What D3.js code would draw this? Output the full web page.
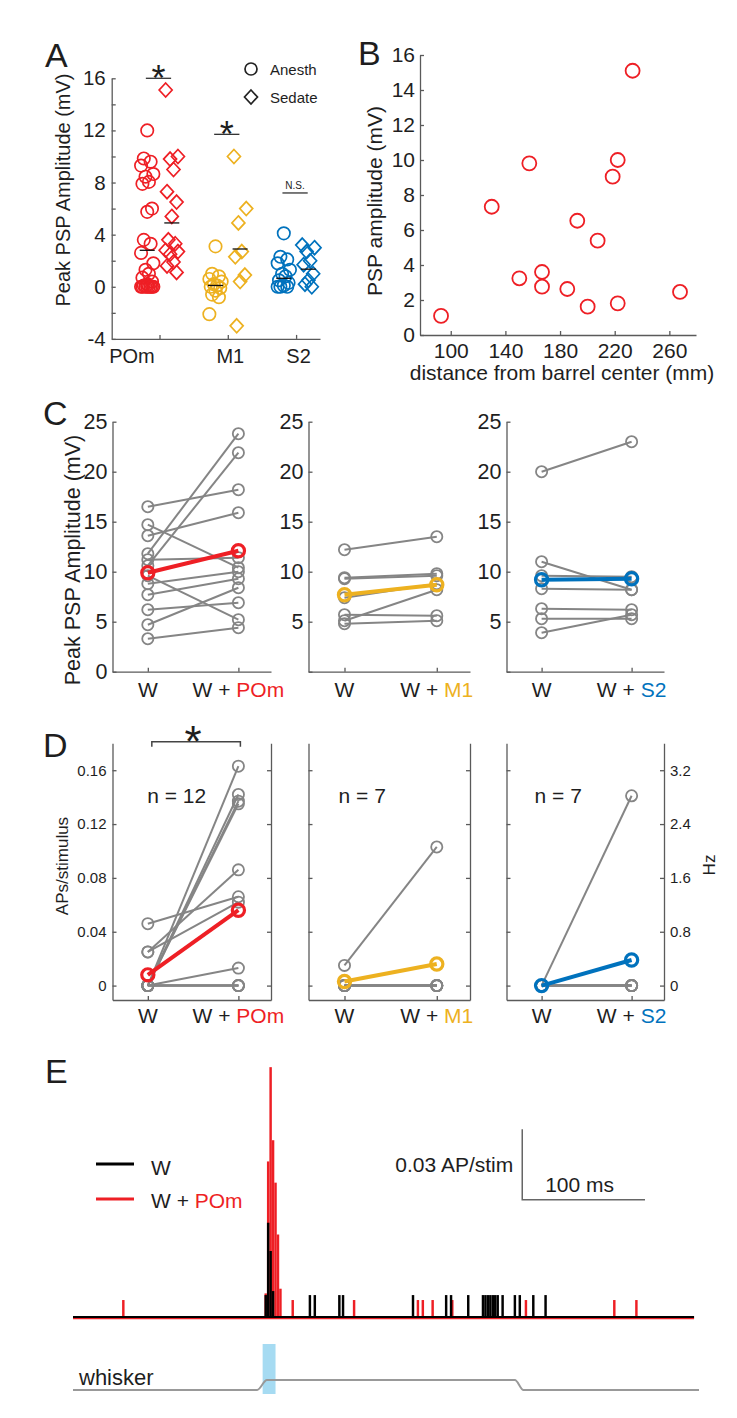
<!DOCTYPE html>
<html><head><meta charset="utf-8">
<script src="https://cdn.jsdelivr.net/npm/d3@7"></script>
<style>
body{margin:0;background:#fff}
text{font-family:"Liberation Sans",Arial,sans-serif;fill:#1e1e1e;white-space:pre}
</style>
</head><body>
<svg id="c" width="737" height="1418"></svg>
<script>
// ---------------- DATA ----------------
// Panel A
const groupsA = ["POm", "M1", "S2"];
const anesthPOm = [12.0, 9.85, 9.6, 9.3, 8.65, 8.45, 8.05, 7.9, 6.0, 5.75, 3.6, 3.3, 2.6, 1.8, 1.3, 1.0, 0.7, 0.4, 0.2, 0.1, 0, 0, 0, 0, 0, 0, 0, 0];
const sedatePOm = [15.1, 10.0, 9.8, 9.0, 7.3, 6.5, 5.4, 3.6, 3.3, 2.8, 2.7, 2.5, 1.9, 1.6, 1.1];
const anesthM1 = [3.1, 1.0, 0.8, 0.6, 0.4, 0.2, 0.1, 0, -0.1, -0.3, -0.6, -0.8, -2.1];
const sedateM1 = [10.0, 6.0, 4.9, 2.7, 2.3, 0.9, 0.4, -3.0];
const anesthS2 = [4.1, 2.3, 2.1, 1.8, 1.3, 1.0, 0.8, 0.5, 0.3, 0.1, 0, 0, 0];
const sedateS2 = [3.2, 3.0, 2.7, 2.0, 1.7, 1.0, 0.5, 0.2, 0.0];
const meanAnesthA = [2.8, 0.1, 0.65];
const meanSedateA = [4.9, 2.9, 1.35];
const sigLabelA = ["*", "*", "N.S."];
const sigLevelA = [16, 11.7, 7.2];
const ticksAy = [-4, -2, 0, 2, 4, 6, 8, 10, 12, 14, 16];
const legendA = ["Anesth", "Sedate"];

// Panel B
const distB = [92.9, 130, 150.2, 157.5, 166.8, 166.8, 185.3, 192.6, 200.2, 207.5, 218.5, 222.2, 222.2, 233.1, 267.8];
const ampB  = [1.09, 7.33, 3.24, 9.81, 3.6, 2.76, 2.63, 6.53, 1.62, 5.39, 9.05, 10.0, 1.81, 15.1, 2.46];
const ticksBx = [100, 140, 180, 220, 260];
const ticksBy = [0, 2, 4, 6, 8, 10, 12, 14, 16];

// Panel C (PSP amplitude, W vs W + area)
const areas = ["POm", "M1", "S2"];
const cPOmW  = [16.5, 14.7, 13.6, 11.8, 11.2, 10.6, 9.6, 8.8, 7.7, 6.2, 4.7, 3.3];
const cPOmWP = [18.2, 10.4, 15.9, 23.8, 11.4, 21.9, 5.2, 10.0, 9.3, 6.9, 8.4, 4.4];
const cM1W   = [12.2, 9.4, 9.3, 7.4, 5.7, 5.1, 4.8];
const cM1WP  = [13.5, 9.8, 9.6, 8.8, 5.6, 8.2, 5.1];
const cS2W   = [20.0, 11.0, 9.6, 8.3, 6.3, 5.3, 3.9];
const cS2WP  = [23.0, 8.2, 9.5, 8.2, 6.2, 5.3, 5.7];
const cMeanW  = [9.9, 7.7, 9.2];
const cMeanWP = [12.1, 8.7, 9.3];
const ticksC = [0, 5, 10, 15, 20, 25];

// Panel D (APs/stimulus)
const dPOmW  = [0, 0, 0, 0, 0.025, 0.046, 0.025, 0, 0, 0, 0, 0];
const dPOmWP = [0.163, 0.142, 0.137, 0.135, 0.086, 0.066, 0.062, 0.013, 0, 0, 0, 0];
const dM1W   = [0.015, 0, 0, 0, 0, 0, 0];
const dM1WP  = [0.103, 0, 0, 0, 0, 0, 0];
const dS2W   = [0, 0, 0, 0, 0, 0, 0];
const dS2WP  = [0.141, 0, 0, 0, 0, 0, 0];
const dMeanW  = [0.008, 0.003, 0.0];
const dMeanWP = [0.056, 0.016, 0.019];
const ticksD = [0, 0.04, 0.08, 0.12, 0.16];
const ticksHz = [0, 0.8, 1.6, 2.4, 3.2];
const nLabels = ["n = 12", "n = 7", "n = 7"];

// Panel E (PSTH, 2 ms bins; time in ms)
const redT = [40, 156, 158, 160, 162, 164, 166, 168, 178, 228, 280, 284, 292, 308, 368, 440, 458];
const redV = [0.0072, 0.010, 0.066, 0.106, 0.075, 0.057, 0.035, 0.012, 0.0072, 0.0072, 0.0072, 0.0072, 0.0072, 0.0072, 0.0072, 0.0072, 0.0072];
const blackT = [156, 158, 160, 162, 192, 196, 216, 219, 276, 303, 307, 321, 333, 335, 337, 339, 341, 343, 345, 349, 359, 363, 374, 384];
const blackV = [0.0093, 0.040, 0.028, 0.011, 0.0093, 0.0093, 0.0093, 0.0093, 0.0093, 0.0093, 0.0093, 0.0093, 0.0093, 0.0093, 0.0093, 0.0093, 0.0093, 0.0093, 0.0093, 0.0093, 0.0093, 0.0093, 0.0093, 0.0093];
const whiskerT = [0, 150, 158, 360, 367, 510];
const whiskerPos = [0, 0, 1, 1, 0, 0];
const stimWindow = [154.5, 165];
const legendE = ["W", "POm"];

// ---------------- STYLE ----------------
const svg = d3.select("#c");
const AX = "#5a5a5a";
const RED = "#EE1F25", YEL = "#EDB120", BLU = "#0072BD", GRAY = "#858585";
const areaColor = [RED, YEL, BLU];

function styleAxis(g, fs) {
  g.attr("font-family", null).attr("font-size", null);
  g.select(".domain").attr("stroke", AX).attr("stroke-width", 1.3);
  g.selectAll(".tick line").attr("stroke", AX).attr("stroke-width", 1.3);
  g.selectAll(".tick text").attr("fill", "#1e1e1e").style("font-size", fs + "px");
}
function letter(t, x, y) {
  svg.append("text").attr("x", x).attr("y", y).style("font-size", "34px").text(t);
}

// ---------------- PANEL A ----------------
const xA = d3.scaleLinear().domain([0.3, 3.35]).range([111.7, 320]);
const yA = d3.scaleLinear().domain([-4, 16]).range([338.9, 78.3]);
const gA = svg.append("g");
gA.append("g").attr("transform", "translate(111.7,0)")
  .call(d3.axisLeft(yA).tickValues(ticksAy).tickSizeInner(-4).tickSizeOuter(0).tickPadding(6)
    .tickFormat(d => d % 4 === 0 ? d : ""))
  .call(g => styleAxis(g, 20.5));
gA.append("g").attr("transform", "translate(0,338.9)")
  .call(d3.axisBottom(xA).tickValues([1, 2, 3]).tickSizeInner(-4).tickSizeOuter(0).tickPadding(10)
    .tickFormat(i => groupsA[i - 1]))
  .call(g => styleAxis(g, 20))
  .call(g => g.selectAll(".tick text").attr("dx", (d) => d === 1 ? -28 : 2));
gA.append("text").attr("transform", "translate(70,190) rotate(-90)").attr("text-anchor", "middle")
  .style("font-size", "20px").text("Peak PSP Amplitude (mV)");

const jit = [0, -0.05, 0.05, -0.09, 0.09, -0.025, 0.025, -0.07, 0.07];
const diamond = "M0,-7L6.5,0L0,7L-6.5,0Z";
const anesthA = [anesthPOm, anesthM1, anesthS2];
const sedateA = [sedatePOm, sedateM1, sedateS2];
anesthA.forEach((arr, gi) => {
  gA.append("g").selectAll("circle").data(arr).join("circle")
    .attr("cx", (d, i) => xA(gi + 1 - 0.18 + jit[i % jit.length]))
    .attr("cy", d => yA(d)).attr("r", 6.2)
    .attr("fill", "none").attr("stroke", areaColor[gi]).attr("stroke-width", 1.7);
});
sedateA.forEach((arr, gi) => {
  gA.append("g").selectAll("path").data(arr).join("path")
    .attr("d", diamond)
    .attr("transform", (d, i) => `translate(${xA(gi + 1 + 0.18 + jit[(i + 3) % jit.length])},${yA(d)})`)
    .attr("fill", "none").attr("stroke", areaColor[gi]).attr("stroke-width", 1.7);
});
[[meanAnesthA, -0.18], [meanSedateA, 0.18]].forEach(([m, off]) => {
  gA.append("g").selectAll("line").data(m).join("line")
    .attr("x1", (d, i) => xA(i + 1 + off - 0.11)).attr("x2", (d, i) => xA(i + 1 + off + 0.11))
    .attr("y1", d => yA(d)).attr("y2", d => yA(d)).attr("stroke", "#111").attr("stroke-width", 1.3);
});
// significance
sigLevelA.forEach((lv, i) => {
  gA.append("line").attr("x1", xA(i + 1 - 0.2)).attr("x2", xA(i + 1 + 0.17))
    .attr("y1", yA(lv)).attr("y2", yA(lv)).attr("stroke", "#333").attr("stroke-width", 1.3);
  const star = sigLabelA[i] === "*";
  gA.append("text").attr("x", xA(i + 1 - 0.015)).attr("y", star ? yA(lv) + 13 : yA(lv) - 4)
    .attr("text-anchor", "middle").style("font-size", star ? "36px" : "10px").text(sigLabelA[i]);
});
// legend
gA.append("circle").attr("cx", 251).attr("cy", 69).attr("r", 6).attr("fill", "none").attr("stroke", "#222").attr("stroke-width", 1.7);
gA.append("path").attr("d", diamond).attr("transform", "translate(251,97)").attr("fill", "none").attr("stroke", "#222").attr("stroke-width", 1.7);
legendA.forEach((t, i) => gA.append("text").attr("x", 270).attr("y", 74.5 + i * 28).style("font-size", "15px").text(t));
letter("A", 45, 67);

// ---------------- PANEL B ----------------
const xB = d3.scaleLinear().domain([77.5, 279.5]).range([420, 696]);
const yB = d3.scaleLinear().domain([0, 16]).range([335, 55]);
const gB = svg.append("g");
gB.append("g").attr("transform", "translate(420,0)")
  .call(d3.axisLeft(yB).tickValues(ticksBy).tickSizeInner(-4).tickSizeOuter(0).tickPadding(5))
  .call(g => styleAxis(g, 21));
gB.append("g").attr("transform", "translate(0,335)")
  .call(d3.axisBottom(xB).tickValues(ticksBx).tickSizeInner(-4).tickSizeOuter(0).tickPadding(8))
  .call(g => styleAxis(g, 21));
gB.selectAll("circle.pt").data(distB).join("circle").attr("class", "pt")
  .attr("cx", d => xB(d)).attr("cy", (d, i) => yB(ampB[i])).attr("r", 7)
  .attr("fill", "none").attr("stroke", RED).attr("stroke-width", 1.8);
gB.append("text").attr("transform", "translate(382,201) rotate(-90)").attr("text-anchor", "middle")
  .style("font-size", "21px").text("PSP amplitude (mV)");
gB.append("text").attr("x", 562).attr("y", 380).attr("text-anchor", "middle")
  .style("font-size", "21px").text("distance from barrel center (mm)");
letter("B", 358, 65);

// ---------------- PANELS C & D ----------------
const cols = [[112.5, 271], [308.5, 470], [506.5, 664]];
const xDom = [-0.39, 1.36];
const cW = [cPOmW, cM1W, cS2W], cWP = [cPOmWP, cM1WP, cS2WP];
const dW = [dPOmW, dM1W, dS2W], dWP = [dPOmWP, dM1WP, dS2WP];
const yC = d3.scaleLinear().domain([0, 25]).range([671.7, 421.7]);
const yD = d3.scaleLinear().domain([-0.0107, 0.18]).range([1000, 743.3]);
const yHz = d3.scaleLinear().domain([-0.0107 * 20, 0.18 * 20]).range([1000, 743.3]);

function condLabels(g, x, y, k) {
  g.append("text").attr("x", x(0)).attr("y", y).attr("text-anchor", "middle").style("font-size", "21px").text("W");
  const t = g.append("text").attr("x", x(1)).attr("y", y).attr("text-anchor", "middle").style("font-size", "21px");
  t.append("tspan").text("W + ");
  t.append("tspan").attr("fill", areaColor[k]).text(areas[k]);
}
function pairs(g, x, y, a, b, meanA, meanB, color, r) {
  a.forEach((v, i) => {
    g.append("line").attr("x1", x(0)).attr("x2", x(1)).attr("y1", y(v)).attr("y2", y(b[i]))
      .attr("stroke", GRAY).attr("stroke-width", 2);
  });
  const pts = a.map(v => [0, v]).concat(b.map(v => [1, v]));
  g.append("g").selectAll("circle").data(pts).join("circle")
    .attr("cx", d => x(d[0])).attr("cy", d => y(d[1])).attr("r", r)
    .attr("fill", "none").attr("stroke", GRAY).attr("stroke-width", 1.8);
  g.append("line").attr("x1", x(0)).attr("x2", x(1)).attr("y1", y(meanA)).attr("y2", y(meanB))
    .attr("stroke", color).attr("stroke-width", 4);
  g.append("g").selectAll("circle").data([[0, meanA], [1, meanB]]).join("circle")
    .attr("cx", d => x(d[0])).attr("cy", d => y(d[1])).attr("r", r + 0.5)
    .attr("fill", "none").attr("stroke", color).attr("stroke-width", 3.2);
}

cols.forEach((c, k) => {
  const x = d3.scaleLinear().domain(xDom).range(c);
  // C
  const g = svg.append("g");
  g.append("g").attr("transform", `translate(${c[0]},0)`)
    .call(d3.axisLeft(yC).tickValues(ticksC).tickSizeInner(-4).tickSizeOuter(0).tickPadding(5)
      .tickFormat(d => (k === 0 || d > 0) ? d : ""))
    .call(a => styleAxis(a, 21.5));
  g.append("g").attr("transform", `translate(0,${yC(0)})`)
    .call(d3.axisBottom(x).tickValues([0, 1]).tickSizeInner(-4).tickSizeOuter(0).tickFormat(""))
    .call(a => styleAxis(a, 21));
  pairs(g, x, yC, cW[k], cWP[k], cMeanW[k], cMeanWP[k], areaColor[k], 5.6);
  condLabels(g, x, 697, k);

  // D
  const h = svg.append("g");
  h.append("g").attr("transform", `translate(${c[0]},0)`)
    .call(d3.axisLeft(yD).tickValues(ticksD).tickSizeInner(-4).tickSizeOuter(0).tickPadding(6)
      .tickFormat(d => k === 0 ? (d === 0 ? "0" : d3.format(".2f")(d)) : ""))
    .call(a => styleAxis(a, 15));
  h.append("g").attr("transform", `translate(${c[1]},0)`)
    .call(d3.axisRight(yHz).tickValues(ticksHz).tickSizeInner(-4).tickSizeOuter(0).tickPadding(6)
      .tickFormat(d => k === 2 ? (d === 0 ? "0" : d3.format(".1f")(d)) : ""))
    .call(a => styleAxis(a, 15));
  h.append("g").attr("transform", `translate(0,${yD.range()[0]})`)
    .call(d3.axisBottom(x).tickValues([0, 1]).tickSizeInner(-4).tickSizeOuter(0).tickFormat(""))
    .call(a => styleAxis(a, 15));
  pairs(h, x, yD, dW[k], dWP[k], dMeanW[k], dMeanWP[k], areaColor[k], 5.6);
  condLabels(h, x, 1023, k);
  h.append("text").attr("x", (c[0] + c[1]) / 2 + (k === 0 ? -15 : -27)).attr("y", 803)
    .attr("text-anchor", "middle").style("font-size", "21px").text(nLabels[k]);
  if (k === 0) {
    // significance bracket
    const yb = yD(0.1812), yt = yD(0.1775);
    h.append("path").attr("d", `M${x(0) + 4},${yt}V${yb}H${x(1) + 2}V${yt}`)
      .attr("fill", "none").attr("stroke", "#444").attr("stroke-width", 1.5);
    h.append("text").attr("x", (x(0) + x(1)) / 2).attr("y", yb + 15).attr("text-anchor", "middle")
      .style("font-size", "44px").text("*");
  }
});
svg.append("text").attr("transform", "translate(80,560) rotate(-90)").attr("text-anchor", "middle")
  .style("font-size", "21.5px").text("Peak PSP Amplitude (mV)");
svg.append("text").attr("transform", "translate(68,866) rotate(-90)").attr("text-anchor", "middle")
  .style("font-size", "17px").text("APs/stimulus");
svg.append("text").attr("transform", "translate(715,865) rotate(-90)").attr("text-anchor", "middle")
  .style("font-size", "17px").text("Hz");
letter("C", 43, 425);
letter("D", 43, 757);

// ---------------- PANEL E ----------------
const xE = d3.scaleLinear().domain([0, 510]).range([73, 699]);
const yE = d3.scaleLinear().domain([0, 0.11]).range([1317, 1317 - 0.11 * 2357]);
const yW = d3.scaleLinear().domain([0, 1]).range([1390, 1380]);
const binW = 2;
const gE = svg.append("g");
gE.selectAll("rect.r").data(redT).join("rect").attr("class", "r")
  .attr("x", d => xE(d)).attr("width", d => xE(d + binW) - xE(d))
  .attr("y", (d, i) => yE(redV[i])).attr("height", (d, i) => yE(0) - yE(redV[i])).attr("fill", RED);
gE.selectAll("rect.b").data(blackT).join("rect").attr("class", "b")
  .attr("x", d => xE(d)).attr("width", d => xE(d + binW) - xE(d))
  .attr("y", (d, i) => yE(blackV[i])).attr("height", (d, i) => yE(0) - yE(blackV[i])).attr("fill", "#000");
gE.append("line").attr("x1", xE(0)).attr("x2", xE(506)).attr("y1", yE(0) + 1.5).attr("y2", yE(0) + 1.5)
  .attr("stroke", RED).attr("stroke-width", 1.5);
gE.append("line").attr("x1", xE(0)).attr("x2", xE(506)).attr("y1", yE(0)).attr("y2", yE(0))
  .attr("stroke", "#000").attr("stroke-width", 2);

// legend
gE.append("line").attr("x1", 96).attr("x2", 134).attr("y1", 1164).attr("y2", 1164).attr("stroke", "#000").attr("stroke-width", 3);
gE.append("line").attr("x1", 96).attr("x2", 134).attr("y1", 1199).attr("y2", 1199).attr("stroke", RED).attr("stroke-width", 3);
gE.append("text").attr("x", 151).attr("y", 1175).style("font-size", "21px").text(legendE[0]);
const tl = gE.append("text").attr("x", 151).attr("y", 1208).style("font-size", "21px");
tl.append("tspan").text("W + ");
tl.append("tspan").attr("fill", RED).text(legendE[1]);

// scale bar
const sb = {t: 366, v: 0.0497, dt: 100, dv: 0.03};
gE.append("path").attr("d", `M${xE(sb.t)},${yE(sb.v + sb.dv)}V${yE(sb.v)}H${xE(sb.t + sb.dt)}`)
  .attr("fill", "none").attr("stroke", "#666").attr("stroke-width", 1.5);
gE.append("text").attr("x", xE(sb.t) - 9).attr("y", yE(sb.v + sb.dv / 2) + 7.5).attr("text-anchor", "end")
  .style("font-size", "21px").text("0.03 AP/stim");
gE.append("text").attr("x", xE(sb.t + sb.dt / 2) - 4).attr("y", yE(sb.v) - 8).attr("text-anchor", "middle")
  .style("font-size", "21px").text("100 ms");

// whisker
gE.append("rect").attr("x", xE(stimWindow[0])).attr("width", xE(stimWindow[1]) - xE(stimWindow[0]))
  .attr("y", 1344).attr("height", 50).attr("fill", "#A6DBF2");
gE.append("path").datum(whiskerT.map((t, i) => [t, whiskerPos[i]]))
  .attr("d", d3.line().x(d => xE(d[0])).y(d => yW(d[1])).curve(d3.curveMonotoneX))
  .attr("fill", "none").attr("stroke", "#999").attr("stroke-width", 2);
gE.append("text").attr("x", 79).attr("y", 1385).style("font-size", "22px").text("whisker");
letter("E", 45, 1083);
</script>
</body></html>
